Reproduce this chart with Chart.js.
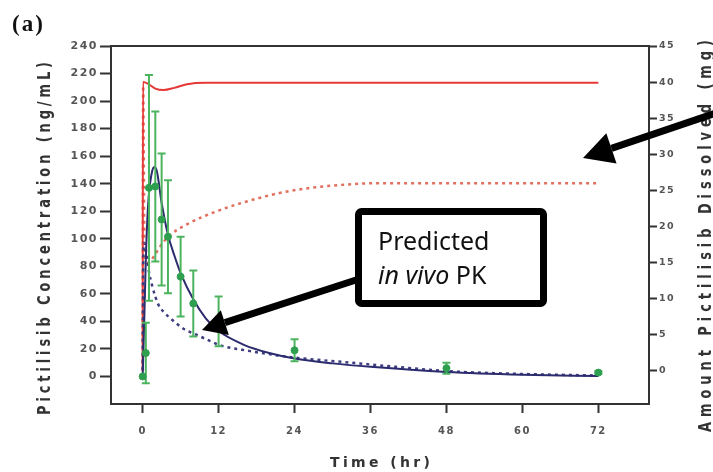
<!DOCTYPE html>
<html>
<head>
<meta charset="utf-8">
<script src="https://cdn.jsdelivr.net/npm/chart.js@4.4.1/dist/chart.umd.min.js"></script>
<style>
  html, body { margin: 0; padding: 0; background: #fff; }
  #wrap { position: relative; width: 713px; height: 472px; }
</style>
</head>
<body>
<div id="wrap"><canvas id="chart"></canvas></div>
<script>
// observed plasma concentration (ng/mL), mean and SD
const obsTime = [0, 0.5, 1, 2, 3, 4, 6, 8, 12, 24, 48, 72];
const obsConc = [0, 17, 137, 138, 114, 101.5, 72.5, 53, 40, 19, 6, 2.8];
const obsErr  = [0, 22, 82, 54.5, 48, 41, 29, 24, 18, 8, 4, 1];

// predicted in vivo PK (solid navy line)
const predTime = [0, 0.25, 0.5, 0.75, 1, 1.5, 1.8, 2.2, 3, 4, 5, 6, 8, 10, 12, 16, 20, 24, 30, 36, 48, 60, 72];
const predConc = [0, 40, 85, 115, 133, 149, 152, 150, 126, 103, 88, 75, 56, 42, 33, 23, 17, 13, 9.5, 7, 3.3, 1.3, 0.3];

// second prediction (dotted navy line)
const altTime = [0, 0.1, 0.25, 0.5, 0.75, 1, 1.5, 2, 2.5, 3.5, 4.7, 6.5, 8.4, 10.7, 12.3, 17, 21.3, 24.2, 32, 40, 48, 60, 72];
const altConc = [0, 85, 97, 92, 84, 76, 66, 58, 52, 46, 41, 34.5, 30.5, 25.7, 22.6, 18.4, 15.3, 13.6, 10.4, 7, 3.9, 1.8, 0.7];

// amount dissolved (mg), right axis
const dissTime = [0, 0.05, 0.8, 2, 3.3, 5, 7, 10, 72];
const dissAmt  = [0, 40, 39.8, 39.1, 38.9, 39.2, 39.7, 39.9, 39.9];
const diss2Time = [0, 0.08, 0.3, 1, 1.8, 3, 4.2, 7, 12, 17, 22, 28, 34, 37, 72];
const diss2Amt  = [0, 39.5, 16, 15, 15.9, 17.5, 18.7, 20.3, 22.2, 23.6, 24.7, 25.5, 25.9, 26, 26];

const xTicks = [0, 12, 24, 36, 48, 60, 72];
const leftTicks = [0, 20, 40, 60, 80, 100, 120, 140, 160, 180, 200, 220, 240];
const rightTicks = [0, 5, 10, 15, 20, 25, 30, 35, 40, 45];

const toPoints = (xs, ys) => xs.map((x, i) => ({ x, y: ys[i] }));

const tickFont = size => ({ family: 'DejaVu Sans', size, weight: 'bold' });
const axisColor = '#333';

// error bars go under the green points
const errorBars = {
  id: 'errorBars',
  beforeDatasetDraw(chart, args) {
    if (args.index !== 0) return;
    const { ctx, scales: { x, y } } = chart;
    ctx.save();
    ctx.strokeStyle = '#4cb35e';
    ctx.lineWidth = 2;
    obsTime.forEach((t, i) => {
      const e = obsErr[i];
      if (!e) return;
      const px = x.getPixelForValue(t);
      const top = y.getPixelForValue(obsConc[i] + e);
      const bot = y.getPixelForValue(obsConc[i] - e);
      ctx.beginPath();
      ctx.moveTo(px, top); ctx.lineTo(px, bot);
      ctx.moveTo(px - 4, top); ctx.lineTo(px + 4, top);
      ctx.moveTo(px - 4, bot); ctx.lineTo(px + 4, bot);
      ctx.stroke();
    });
    ctx.restore();
  }
};

function spacedText(ctx, text, cx, cy, angle, font, length, stretch) {
  ctx.save();
  ctx.translate(cx, cy);
  ctx.rotate(angle);
  ctx.scale(1, stretch);
  ctx.font = font;
  ctx.letterSpacing = '0px';
  const natural = ctx.measureText(text).width;
  ctx.letterSpacing = ((length - natural) / (text.length - 1)) + 'px';
  ctx.textAlign = 'left';
  ctx.textBaseline = 'middle';
  ctx.fillText(text, -length / 2, 0);
  ctx.restore();
}

function arrow(ctx, x1, y1, x2, y2, width, headLen, headHalf) {
  const a = Math.atan2(y2 - y1, x2 - x1);
  const bx = x2 - headLen * Math.cos(a);
  const by = y2 - headLen * Math.sin(a);
  ctx.lineWidth = width;
  ctx.beginPath();
  ctx.moveTo(x1, y1);
  ctx.lineTo(bx, by);
  ctx.stroke();
  ctx.beginPath();
  ctx.moveTo(x2, y2);
  ctx.lineTo(bx + headHalf * Math.sin(a), by - headHalf * Math.cos(a));
  ctx.lineTo(bx - headHalf * Math.sin(a), by + headHalf * Math.cos(a));
  ctx.closePath();
  ctx.fill();
}

const decorations = {
  id: 'decorations',
  beforeDraw(chart) {
    chart.ctx.letterSpacing = '1.5px';
  },
  afterDraw(chart) {
    const { ctx, chartArea: area } = chart;
    ctx.save();

    // top frame line
    ctx.strokeStyle = axisColor;
    ctx.lineWidth = 2;
    ctx.beginPath();
    ctx.moveTo(area.left - 1, area.top);
    ctx.lineTo(area.right + 1, area.top);
    ctx.stroke();

    // axis titles
    ctx.fillStyle = '#333';
    spacedText(ctx, 'Pictilisib Concentration (ng/mL)', 46, 238.5, -Math.PI / 2, 'bold 13px "DejaVu Sans"', 353, 1.3);
    spacedText(ctx, 'Amount Pictilisib Dissolved (mg)', 707, 236, -Math.PI / 2, 'bold 13px "DejaVu Sans"', 392, 1.3);
    spacedText(ctx, 'Time (hr)', (area.left + area.right) / 2, 463, 0, 'bold 14px "DejaVu Sans"', 100, 1);

    // panel label
    ctx.fillStyle = '#111';
    ctx.font = 'bold 23px "Liberation Serif"';
    ctx.letterSpacing = '2px';
    ctx.textAlign = 'left';
    ctx.textBaseline = 'alphabetic';
    ctx.fillText('(a)', 12, 31);
    ctx.letterSpacing = '0px';

    // annotation: arrow, box, text
    ctx.fillStyle = '#000';
    ctx.strokeStyle = '#000';
    arrow(ctx, 356, 280, 202, 330, 7, 24, 13);

    ctx.lineWidth = 7;
    ctx.fillStyle = '#fff';
    ctx.beginPath();
    ctx.roundRect(358.5, 211.5, 185, 92, 3);
    ctx.fill();
    ctx.stroke();

    ctx.fillStyle = '#111';
    ctx.textBaseline = 'alphabetic';
    ctx.font = '25px "Noto Sans"';
    ctx.fillText('Predicted', 378, 250);
    ctx.font = 'italic 25px "Noto Sans"';
    ctx.fillText('in vivo', 378, 284);
    const w = ctx.measureText('in vivo').width;
    ctx.font = '25px "Noto Sans"';
    ctx.fillText(' PK', 378 + w, 284);

    ctx.fillStyle = '#000';
    arrow(ctx, 722, 111, 583, 158, 7, 30, 16);

    ctx.restore();
  }
};

new Chart(document.getElementById('chart'), {
  type: 'scatter',
  data: {
    datasets: [
      {
        label: 'Observed',
        data: toPoints(obsTime, obsConc),
        yAxisID: 'y',
        showLine: false,
        pointRadius: 3.5,
        pointBackgroundColor: '#2e9e4f',
        pointBorderColor: '#2e9e4f'
      },
      {
        label: 'Predicted in vivo PK',
        data: toPoints(predTime, predConc),
        yAxisID: 'y',
        showLine: true,
        borderColor: '#2b2b6e',
        borderWidth: 2,
        pointRadius: 0,
        cubicInterpolationMode: 'monotone'
      },
      {
        label: 'Predicted PK (alt)',
        data: toPoints(altTime, altConc),
        yAxisID: 'y',
        showLine: true,
        borderColor: '#3d3d80',
        borderWidth: 2.5,
        borderDash: [3, 4],
        pointRadius: 0,
        cubicInterpolationMode: 'monotone'
      },
      {
        label: 'Dissolved',
        data: toPoints(dissTime, dissAmt),
        yAxisID: 'y2',
        showLine: true,
        borderColor: '#e53935',
        borderWidth: 2,
        pointRadius: 0,
        cubicInterpolationMode: 'monotone'
      },
      {
        label: 'Dissolved (alt)',
        data: toPoints(diss2Time, diss2Amt),
        yAxisID: 'y2',
        showLine: true,
        borderColor: '#e2705f',
        borderWidth: 2.5,
        borderDash: [3, 4],
        pointRadius: 0,
        cubicInterpolationMode: 'monotone'
      }
    ]
  },
  options: {
    responsive: true,
    maintainAspectRatio: false,
    animation: false,
    devicePixelRatio: 1,
    layout: { padding: { top: 46, left: 0, right: 0, bottom: 0 } },
    plugins: {
      legend: { display: false },
      tooltip: { enabled: false }
    },
    scales: {
      x: {
        type: 'linear',
        min: -5,
        max: 80,
        afterBuildTicks: s => { s.ticks = xTicks.map(v => ({ value: v })); },
        afterFit: s => { s.height = 68; },
        grid: { drawOnChartArea: false, tickLength: 9, tickWidth: 2, tickColor: axisColor },
        border: { color: axisColor, width: 2 },
        ticks: { color: '#555', font: tickFont(10), padding: 12, maxRotation: 0, autoSkip: false }
      },
      y: {
        position: 'left',
        min: -20,
        max: 240,
        afterBuildTicks: s => { s.ticks = leftTicks.map(v => ({ value: v })); },
        afterFit: s => { s.width = 111; },
        grid: { drawOnChartArea: false, tickLength: 11, tickWidth: 2, tickColor: axisColor },
        border: { color: axisColor, width: 2 },
        ticks: { color: '#555', font: tickFont(11), padding: 2, autoSkip: false }
      },
      y2: {
        position: 'right',
        min: -4.6,
        max: 45,
        afterBuildTicks: s => { s.ticks = rightTicks.map(v => ({ value: v })); },
        afterFit: s => { s.width = 64; },
        grid: { drawOnChartArea: false, tickLength: 8, tickWidth: 2, tickColor: axisColor },
        border: { color: axisColor, width: 2 },
        ticks: { color: '#555', font: tickFont(9.5), padding: 2, autoSkip: false }
      }
    }
  },
  plugins: [errorBars, decorations]
});
</script>
</body>
</html>
